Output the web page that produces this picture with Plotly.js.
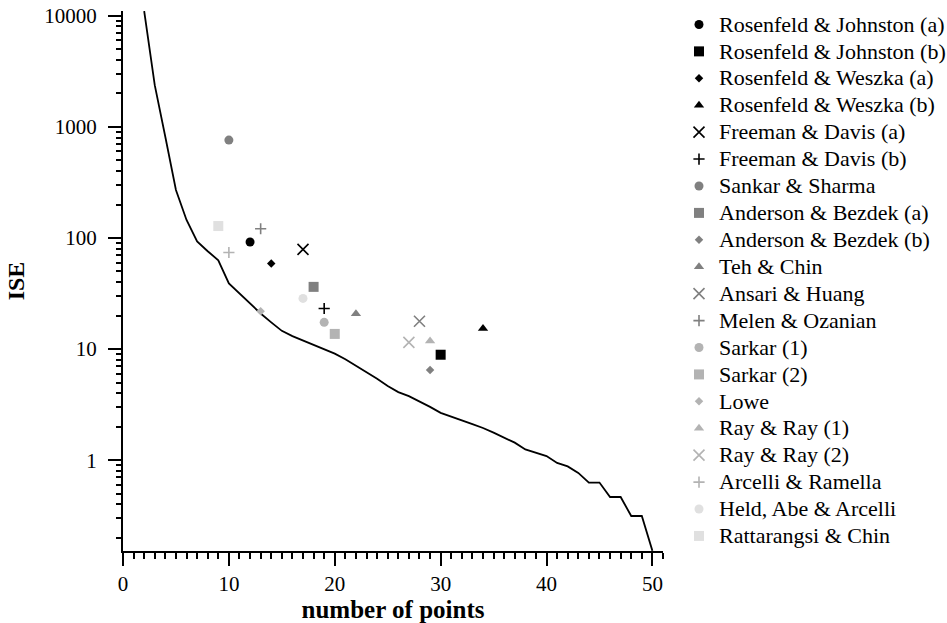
<!DOCTYPE html>
<html>
<head>
<meta charset="utf-8">
<script src="https://cdn.plot.ly/plotly-3.0.1.min.js"></script>
<style>
  html, body { margin: 0; padding: 0; background: #fff; }
  #chart { width: 947px; height: 623px; }
</style>
</head>
<body>
<div id="chart"></div>
<script>
// ---- data ----
const curvePoints = [2, 3, 4, 5, 6, 7, 8, 9, 10, 11, 12, 13, 14, 15, 16, 17, 18, 19, 20,
  21, 22, 23, 24, 25, 26, 27, 28, 29, 30, 31, 32, 33, 34, 35, 36, 37, 38, 39, 40,
  41, 42, 43, 44, 45, 46, 47, 48, 49, 50];
const curveISE = [11000, 2370, 810, 270, 145, 93, 76, 63, 39, 31.7, 25.7, 20.9, 17.4, 14.6, 13.1, 12.0, 10.9, 10.0, 9.1,
  8.1, 7.1, 6.2, 5.4, 4.65, 4.1, 3.77, 3.40, 3.02, 2.67, 2.45, 2.28, 2.11, 1.95, 1.77, 1.60, 1.44, 1.25, 1.16, 1.09,
  0.946, 0.88, 0.77, 0.63, 0.63, 0.467, 0.467, 0.315, 0.315, 0.153];

const methodNames = [
  "Rosenfeld & Johnston (a)", "Rosenfeld & Johnston (b)", "Rosenfeld & Weszka (a)", "Rosenfeld & Weszka (b)",
  "Freeman & Davis (a)", "Freeman & Davis (b)", "Sankar & Sharma", "Anderson & Bezdek (a)",
  "Anderson & Bezdek (b)", "Teh & Chin", "Ansari & Huang", "Melen & Ozanian",
  "Sarkar (1)", "Sarkar (2)", "Lowe", "Ray & Ray (1)", "Ray & Ray (2)",
  "Arcelli & Ramella", "Held, Abe & Arcelli", "Rattarangsi & Chin"
];
const methodPoints = [12, 30, 14, 34, 17, 19, 10, 18, 29, 22, 28, 13, 19, 20, 13, 29, 27, 10, 17, 9];
const methodISE = [92, 8.9, 59, 15.3, 79, 23.2, 760, 36.3, 6.5, 20.8, 17.8, 121, 17.4, 13.7, 21.9, 11.8, 11.5, 74, 28.6, 128];

const yTickValues = [1, 10, 100, 1000, 10000];
const yTickLabels = ["1", "10", "100", "1000", "10000"];

// ---- styles ----
const BLACK = "#000000", DARK = "#808080", LIGHT = "#b3b3b3", PALE = "#e0e0e0";
const methodColors = [BLACK, BLACK, BLACK, BLACK, BLACK, BLACK, DARK, DARK, DARK, DARK, DARK, DARK,
  LIGHT, LIGHT, LIGHT, LIGHT, LIGHT, LIGHT, PALE, PALE];
const methodSymbols = ["circle", "square", "diamond", "triangle-up", "x-thin", "cross-thin",
  "circle", "square", "diamond", "triangle-up", "x-thin", "cross-thin",
  "circle", "square", "diamond", "triangle-up", "x-thin", "cross-thin",
  "circle", "square"];
const symbolSize = {"circle": 9, "square": 10, "diamond": 6.5, "triangle-up": 9, "x-thin": 11, "cross-thin": 8};

const FONT = "Liberation Serif, Times New Roman, Times, serif";

const traces = [{
  x: curvePoints, y: curveISE, type: "scatter", mode: "lines",
  line: {color: "#000", width: 1.8}, showlegend: false, hoverinfo: "skip"
}];

methodNames.forEach((name, i) => {
  const sym = methodSymbols[i];
  const thin = sym === "x-thin" || sym === "cross-thin";
  traces.push({
    x: [methodPoints[i]], y: [methodISE[i]], type: "scatter", mode: "markers",
    name: '<span style="font-size:22px;font-family:Liberation Serif,serif">' + name + '</span>',
    marker: {
      symbol: sym, size: symbolSize[sym], color: methodColors[i],
      line: {color: methodColors[i], width: thin ? 1.6 : 0}
    },
    cliponaxis: false
  });
});

const layout = {
  width: 947, height: 623,
  margin: {l: 123, r: 284, t: 11, b: 72, pad: 0},
  paper_bgcolor: "#fff", plot_bgcolor: "#fff",
  font: {family: FONT, size: 21, color: "#000"},
  showlegend: true,
  legend: {
    xref: "container", yref: "container",
    x: 679 / 947, y: 1 - 6 / 623, xanchor: "left", yanchor: "top",
    font: {family: FONT, size: 18.4, color: "#000"},
    bgcolor: "rgba(0,0,0,0)", borderwidth: 0, itemwidth: 30,
    traceorder: "normal", maxheight: 620
  },
  xaxis: {
    range: [0, 51], tick0: 0, dtick: 10,
    showline: true, linecolor: "#000", linewidth: 2,
    ticks: "outside", ticklen: 13, tickwidth: 2, tickcolor: "#000",
    minor: {dtick: 1, ticks: "outside", ticklen: 6, tickwidth: 2, tickcolor: "#000", showgrid: false},
    showgrid: false, zeroline: false,
    tickfont: {family: FONT, size: 21, color: "#000"},
    title: {text: "<b>number of points</b>", font: {family: FONT, size: 25, color: "#000"}, standoff: 8}
  },
  yaxis: {
    type: "log", range: [-0.8165, 4.042],
    tickmode: "array", tickvals: yTickValues, ticktext: yTickLabels,
    showline: true, linecolor: "#000", linewidth: 2,
    ticks: "outside", ticklen: 13, tickwidth: 2, tickcolor: "#000",
    ticklabelstandoff: 7,
    minor: {dtick: "D1", ticks: "outside", ticklen: 5, tickwidth: 2, tickcolor: "#000", showgrid: false},
    showgrid: false, zeroline: false,
    tickfont: {family: FONT, size: 21, color: "#000"},
    title: {text: "<b>ISE</b>", font: {family: FONT, size: 24, color: "#000"}, standoff: 13}
  }
};

Plotly.newPlot("chart", traces, layout, {staticPlot: true, displayModeBar: false});
</script>
</body>
</html>
